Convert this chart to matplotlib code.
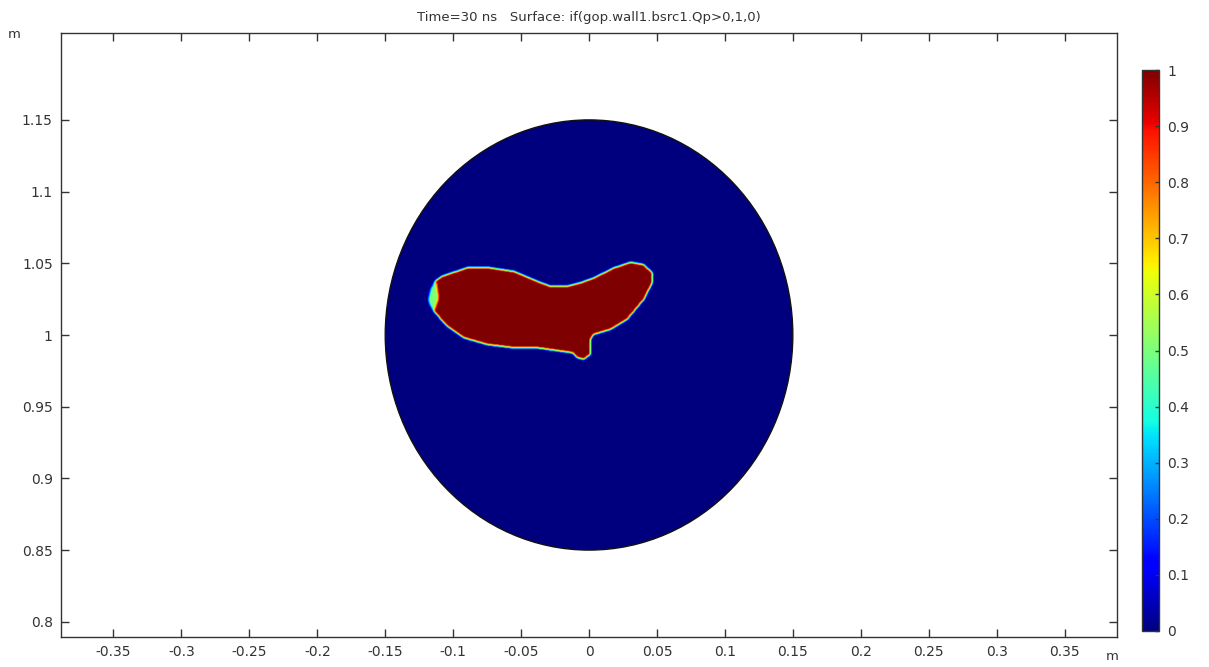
import numpy as np
import matplotlib
matplotlib.use("Agg")
import matplotlib.pyplot as plt
from matplotlib.path import Path
from matplotlib.patches import Circle

# ---- data ----
title = "Time=30 ns   Surface: if(gop.wall1.bsrc1.Qp>0,1,0)"
circle_center = (0.0, 1.0)
circle_radius = 0.15

# outline of the region where the expression equals 1
blob_x = [-0.1185, -0.1165, -0.1130, -0.1084, -0.0900, -0.0729, -0.0557, -0.0385, -0.0287, -0.0164,
          -0.0066, 0.0032, 0.0179, 0.0302, 0.0400, 0.0462, 0.0462, 0.0400,
          0.0277, 0.0155, 0.0032, 0.0007, 0.0007, -0.0042, -0.0091, -0.0127,
          -0.0213, -0.0385, -0.0557, -0.0753, -0.0925, -0.1047, -0.1134, -0.1170]
blob_y = [1.0244, 1.0320, 1.0375, 1.0407, 1.0465, 1.0465, 1.0441, 1.0372, 1.0337, 1.0337,
          1.0361, 1.0395, 1.0465, 1.0504, 1.0488, 1.0430, 1.0361, 1.0244,
          1.0105, 1.0035, 1.0000, 0.9965, 0.9861, 0.9826, 0.9838, 0.9872,
          0.9884, 0.9907, 0.9907, 0.9930, 0.9977, 1.0058, 1.0151, 1.0200]
# partially filled patch at the left tip
patch_x = [-0.1190, -0.1170, -0.1125, -0.1110, -0.1140, -0.1180]
patch_y = [1.0240, 1.0330, 1.0360, 1.0250, 1.0170, 1.0190]
patch_value = 0.5

x_ticks = [-0.35, -0.3, -0.25, -0.2, -0.15, -0.1, -0.05, 0, 0.05, 0.1, 0.15, 0.2, 0.25, 0.3, 0.35]
y_ticks = [0.8, 0.85, 0.9, 0.95, 1.0, 1.05, 1.1, 1.15]
cbar_ticks = [0, 0.1, 0.2, 0.3, 0.4, 0.5, 0.6, 0.7, 0.8, 0.9, 1]
xlim = (-0.3886, 0.3886)
ylim = (0.7894, 1.2106)

# ---- build the field ----
res = 0.0005
gx = np.arange(circle_center[0] - circle_radius, circle_center[0] + circle_radius + res, res)
gy = np.arange(circle_center[1] - circle_radius, circle_center[1] + circle_radius + res, res)
XX, YY = np.meshgrid(gx, gy)
pts = np.column_stack([XX.ravel(), YY.ravel()])
inside = Path(np.column_stack([blob_x, blob_y])).contains_points(pts).reshape(XX.shape)
field = inside.astype(float)
in_patch = Path(np.column_stack([patch_x, patch_y])).contains_points(pts).reshape(XX.shape)
field[in_patch & inside] = patch_value
# soften the boundary (5x5 box filter)
k = 2
pad = np.pad(field, k, mode="edge")
sm = sum(pad[k + i:k + i + field.shape[0], k + j:k + j + field.shape[1]]
         for i in range(-k, k + 1) for j in range(-k, k + 1)) / float((2 * k + 1) ** 2)

# ---- plot ----
text_color = "#333333"
fig = plt.figure(figsize=(12.09, 6.67), dpi=100)
ax = fig.add_axes([0.0505, 0.045, 0.8734, 0.9055])
circ = Circle(circle_center, circle_radius, facecolor="none", edgecolor="#111111", lw=1.0, zorder=3)
im = ax.imshow(sm, extent=(gx[0] - res / 2, gx[-1] + res / 2, gy[0] - res / 2, gy[-1] + res / 2),
               origin="lower", cmap="jet", vmin=0, vmax=1, interpolation="bilinear", aspect="auto")
ax.add_patch(circ)
im.set_clip_path(circ)
ax.set_xlim(*xlim)
ax.set_ylim(*ylim)
ax.set_xticks(x_ticks)
ax.set_xticklabels([f"{v:g}" for v in x_ticks])
ax.set_yticks(y_ticks)
ax.set_yticklabels([f"{v:g}" for v in y_ticks])
ax.tick_params(direction="in", length=6, width=1, colors="#333333", labelsize=10,
               top=True, right=True, labelcolor=text_color, pad=6)
for s in ax.spines.values():
    s.set_color("#333333")
    s.set_linewidth(1.0)
ax.set_title(title, fontsize=9.5, color=text_color, pad=9)
fig.text(14 / 1209, 1 - 35 / 667, "m", fontsize=9.5, color=text_color, ha="center", va="center")
fig.text(1112 / 1209, 1 - 657 / 667, "m", fontsize=9.5, color=text_color, ha="center", va="center")

cax = fig.add_axes([1142 / 1209, 1 - 631 / 667, 17 / 1209, 561 / 667])
cb = fig.colorbar(im, cax=cax, ticks=cbar_ticks)
cb.ax.set_yticklabels([f"{v:g}" for v in cbar_ticks])
cb.ax.tick_params(direction="in", length=3, width=1, colors="#333333", labelsize=10,
                  labelcolor=text_color, pad=6)
cb.outline.set_edgecolor("#333333")
cb.outline.set_linewidth(1.0)

fig.savefig("out.png", dpi=100)
